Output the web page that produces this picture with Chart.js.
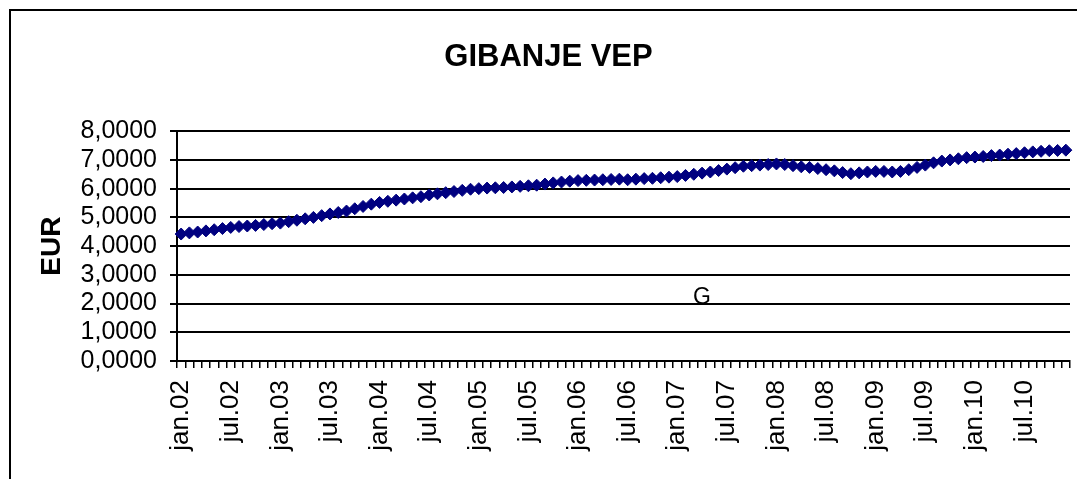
<!DOCTYPE html>
<html>
<head>
<meta charset="utf-8">
<title>GIBANJE VEP</title>
<script src="https://cdn.jsdelivr.net/npm/chart.js@4.4.1/dist/chart.umd.min.js"></script>
<style>
  html, body { margin: 0; padding: 0; background: #fff; }
  #wrap { position: relative; width: 1077px; height: 479px; overflow: hidden; }
  #frame { position: absolute; left: 9px; top: 9px; right: -4px; bottom: -4px;
           border-left: 2px solid #000; border-top: 2px solid #000; }
  canvas { position: absolute; left: 0; top: 0; }
</style>
</head>
<body>
<div id="wrap">
  <div id="frame"></div>
  <canvas id="chart" width="1077" height="479"></canvas>
</div>
<script>
// month names (slovene short) and years on the category axis
const months = ['jan', 'feb', 'mar', 'apr', 'maj', 'jun', 'jul', 'avg', 'sep', 'okt', 'nov', 'dec']
const years = ['02', '03', '04', '05', '06', '07', '08', '09', '10']

// VEP value in EUR, one array per year, jan..dec
const vep2002 = [4.42, 4.46, 4.49, 4.53, 4.57, 4.61, 4.65, 4.68, 4.70, 4.72, 4.75, 4.78]
const vep2003 = [4.80, 4.85, 4.90, 4.95, 5.00, 5.06, 5.12, 5.17, 5.22, 5.30, 5.38, 5.46]
const vep2004 = [5.52, 5.56, 5.60, 5.64, 5.68, 5.72, 5.78, 5.82, 5.86, 5.90, 5.94, 5.98]
const vep2005 = [6.00, 6.02, 6.03, 6.04, 6.06, 6.08, 6.10, 6.12, 6.16, 6.20, 6.23, 6.26]
const vep2006 = [6.28, 6.29, 6.30, 6.31, 6.32, 6.33, 6.31, 6.33, 6.35, 6.36, 6.38, 6.40]
const vep2007 = [6.42, 6.46, 6.50, 6.54, 6.58, 6.63, 6.68, 6.73, 6.78, 6.80, 6.82, 6.84]
const vep2008 = [6.86, 6.84, 6.80, 6.76, 6.74, 6.70, 6.66, 6.62, 6.56, 6.52, 6.55, 6.58]
const vep2009 = [6.60, 6.60, 6.58, 6.60, 6.66, 6.74, 6.82, 6.90, 6.96, 7.00, 7.04, 7.08]
const vep2010 = [7.10, 7.12, 7.15, 7.17, 7.20, 7.22, 7.25, 7.28, 7.30, 7.32, 7.33, 7.34]

// y axis ticks
const yTicks = [0, 1, 2, 3, 4, 5, 6, 7, 8]

// stray text label inside the plot
const note = { text: 'G', index: 63, value: 2.2 }

const categories = []
years.forEach((y) => months.forEach((m) => categories.push(m + '.' + y)))
const values = [].concat(vep2002, vep2003, vep2004, vep2005, vep2006, vep2007, vep2008, vep2009, vep2010)

const FONT = "'Liberation Sans', Arial, sans-serif"

const notePlugin = {
  id: 'note',
  afterDatasetsDraw(chart) {
    const { ctx, scales } = chart
    ctx.save()
    ctx.font = '23px ' + FONT
    ctx.fillStyle = '#000'
    ctx.textAlign = 'center'
    ctx.textBaseline = 'middle'
    ctx.fillText(note.text, scales.x.getPixelForValue(note.index), scales.y.getPixelForValue(note.value))
    ctx.restore()
  }
}

new Chart(document.getElementById('chart'), {
  type: 'line',
  data: {
    labels: categories,
    datasets: [{
      label: 'VEP',
      data: values,
      borderColor: '#000080',
      backgroundColor: '#000080',
      borderWidth: 2,
      pointStyle: 'rectRot',
      pointRadius: 6,
      pointBorderWidth: 1,
      pointBorderColor: '#000080',
      pointBackgroundColor: '#000080',
      fill: false,
      tension: 0,
    }]
  },
  options: {
    responsive: false,
    animation: false,
    devicePixelRatio: 1,
    layout: { padding: { left: 22, right: 2, top: 0, bottom: 0 } },
    plugins: {
      legend: { display: false },
      tooltip: { enabled: false },
      title: {
        display: true,
        text: 'GIBANJE VEP',
        color: '#000',
        font: { family: FONT, size: 31, weight: 'bold' },
        padding: { top: 39, bottom: 55 },
      },
    },
    scales: {
      x: {
        type: 'category',
        offset: true,
        afterFit(scale) {
          scale.height = 118
          scale.paddingLeft = 0
          scale.paddingRight = 0
        },
        grid: { display: true, drawOnChartArea: false, offset: true, tickLength: 7, color: '#000', lineWidth: 1.5 },
        border: { display: true, color: '#000', width: 2 },
        ticks: {
          autoSkip: false,
          maxRotation: 90,
          minRotation: 90,
          padding: 12,
          color: '#000',
          font: { family: FONT, size: 26 },
          callback: (v, i) => (i % 6 === 0 ? categories[i] : ''),
        },
      },
      y: {
        min: 0,
        max: 8,
        afterFit(scale) { scale.width = 155 },
        afterBuildTicks(scale) { scale.ticks = yTicks.map((v) => ({ value: v })) },
        grid: { color: '#000', lineWidth: 2, tickLength: 7 },
        border: { display: true, color: '#000', width: 2 },
        title: {
          display: true,
          text: 'EUR',
          color: '#000',
          font: { family: FONT, size: 28, weight: 'bold' },
          padding: { top: 13, bottom: 0 },
        },
        ticks: {
          autoSkip: false,
          padding: 13,
          color: '#000',
          font: { family: FONT, size: 25 },
          callback: (v) => Number(v).toFixed(4).replace('.', ','),
        },
      },
    },
  },
  plugins: [notePlugin],
})
</script>
</body>
</html>
